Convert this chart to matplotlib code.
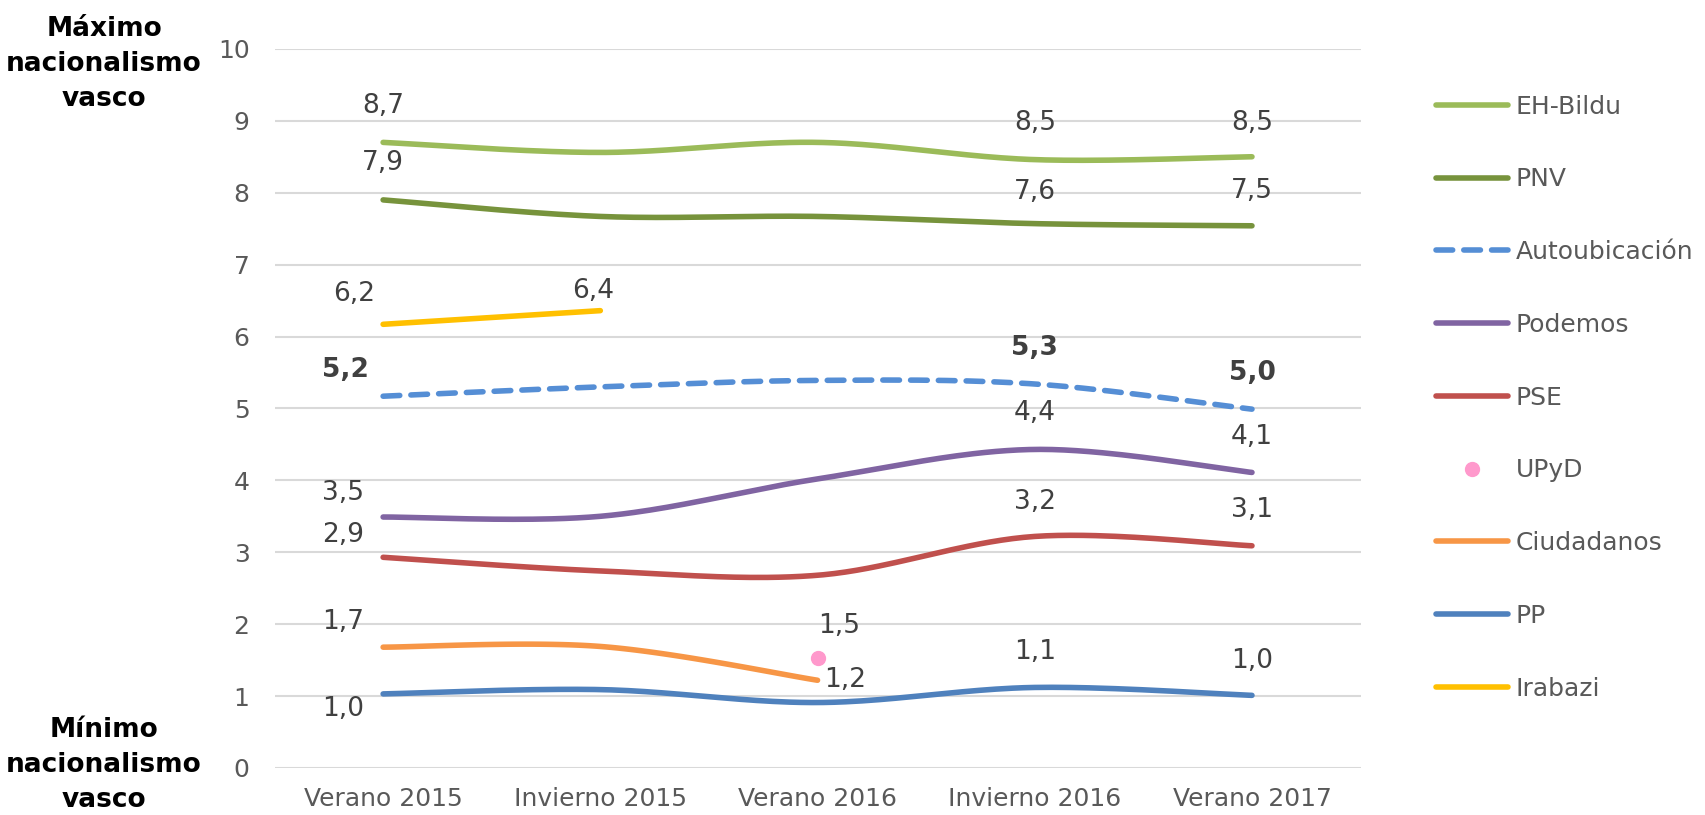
import numpy as np
import matplotlib
matplotlib.use('Agg')
import matplotlib.pyplot as plt
from matplotlib.lines import Line2D

# data
periods = ['Verano 2015', 'Invierno 2015', 'Verano 2016', 'Invierno 2016', 'Verano 2017']
nan = np.nan
eh_bildu = [8.70, 8.56, 8.70, 8.46, 8.50]
pnv = [7.90, 7.67, 7.67, 7.57, 7.54]
autoubicacion = [5.17, 5.30, 5.39, 5.34, 4.99]
podemos = [3.49, 3.50, 4.02, 4.43, 4.11]
pse = [2.93, 2.74, 2.68, 3.22, 3.09]
upyd = [nan, nan, 1.53, nan, nan]
ciudadanos = [1.68, 1.69, 1.22, nan, nan]
pp = [1.03, 1.09, 0.91, 1.12, 1.01]
irabazi = [6.17, 6.36, nan, nan, nan]

# which points carry a label, with offset in pixels (dx, dy)
label_offsets = {
    'EH-Bildu': {0: (0, 36), 3: (0, 37), 4: (0, 34)},
    'PNV': {0: (0, 37), 3: (0, 32), 4: (0, 35)},
    'Autoubicación': {0: (-38, 26), 3: (0, 36), 4: (0, 36)},
    'Podemos': {0: (-40, 24), 3: (0, 36), 4: (0, 35)},
    'PSE': {0: (-40, 22), 3: (0, 34), 4: (0, 36)},
    'UPyD': {2: (22, 32)},
    'Ciudadanos': {0: (-40, 25), 2: (28, 0)},
    'PP': {0: (-40, -15), 3: (0, 35), 4: (0, 34)},
    'Irabazi': {0: (-29, 30), 1: (-7, 20)},
}

series = [
    ('EH-Bildu', eh_bildu, '#9BBB59', '-'),
    ('PNV', pnv, '#77933C', '-'),
    ('Autoubicación', autoubicacion, '#558ED5', '--'),
    ('Podemos', podemos, '#8064A2', '-'),
    ('PSE', pse, '#C0504D', '-'),
    ('UPyD', upyd, '#FF99CC', 'o'),
    ('Ciudadanos', ciudadanos, '#F79646', '-'),
    ('PP', pp, '#4F81BD', '-'),
    ('Irabazi', irabazi, '#FFC000', '-'),
]

TEXT = '#595959'
LABEL = '#404040'
LW = 4.0


def smooth(xs, ys, n=40):
    """Catmull-Rom style smoothing like Excel's smoothed line"""
    xs = np.asarray(xs, float)
    ys = np.asarray(ys, float)
    if len(xs) < 3:
        return np.linspace(xs[0], xs[-1], n), np.linspace(ys[0], ys[-1], n)
    out_x, out_y = [], []
    for i in range(len(xs) - 1):
        p0 = (xs[i - 1], ys[i - 1]) if i > 0 else (xs[i], ys[i])
        p1 = (xs[i], ys[i])
        p2 = (xs[i + 1], ys[i + 1])
        p3 = (xs[i + 2], ys[i + 2]) if i + 2 < len(xs) else (xs[i + 1], ys[i + 1])
        t = np.linspace(0, 1, n)
        c1 = (p1[0] + (p2[0] - p0[0]) / 6, p1[1] + (p2[1] - p0[1]) / 6)
        c2 = (p2[0] - (p3[0] - p1[0]) / 6, p2[1] - (p3[1] - p1[1]) / 6)
        bx = (1 - t) ** 3 * p1[0] + 3 * (1 - t) ** 2 * t * c1[0] + 3 * (1 - t) * t ** 2 * c2[0] + t ** 3 * p2[0]
        by = (1 - t) ** 3 * p1[1] + 3 * (1 - t) ** 2 * t * c1[1] + 3 * (1 - t) * t ** 2 * c2[1] + t ** 3 * p2[1]
        out_x.extend(bx)
        out_y.extend(by)
    return np.array(out_x), np.array(out_y)


fig = plt.figure(figsize=(17.05, 8.15), dpi=100)
ax = fig.add_axes([0.161, 0.0577, 0.637, 0.8823])

x = np.arange(len(periods))
handles = []
for name, vals, color, style in series:
    vals = np.asarray(vals, float)
    ok = ~np.isnan(vals)
    if style == 'o':
        ax.plot(x[ok], vals[ok], 'o', color=color, markersize=10, zorder=3)
        handles.append(Line2D([], [], marker='o', color=color, linestyle='none', markersize=10))
    else:
        sx, sy = smooth(x[ok], vals[ok])
        if style == '--':
            ax.plot(sx, sy, color=color, lw=LW, dashes=(3.0, 2.0), dash_capstyle='round',
                    solid_capstyle='round', zorder=3)
            handles.append(Line2D([], [], color=color, lw=LW, dashes=(3.0, 2.0), dash_capstyle='round'))
        else:
            ax.plot(sx, sy, color=color, lw=LW, solid_capstyle='round', zorder=3)
            handles.append(Line2D([], [], color=color, lw=LW, solid_capstyle='round'))
    bold = name == 'Autoubicación'
    for i, (dx, dy) in label_offsets[name].items():
        txt = f'{vals[i]:.1f}'.replace('.', ',')
        ax.annotate(txt, (x[i], vals[i]), xytext=(dx, dy), textcoords='offset pixels',
                    ha='center', va='center', fontsize=19, color=LABEL,
                    fontweight='bold' if bold else 'normal', zorder=4)

ax.set_xlim(-0.5, len(periods) - 0.5)
ax.set_ylim(0, 10)
ax.set_yticks(range(0, 11))
ax.set_xticks(x)
ax.set_xticklabels(periods)
ax.tick_params(axis='both', length=0, labelsize=18, labelcolor=TEXT)
ax.tick_params(axis='y', pad=18)
ax.tick_params(axis='x', pad=14)
ax.grid(axis='y', color='#D9D9D9', lw=1.5)
ax.set_axisbelow(True)
for s in ax.spines.values():
    s.set_visible(False)

fig.text(0.061, 0.921, 'Máximo\nnacionalismo\nvasco', ha='center', va='center',
         fontsize=19, fontweight='bold', color='black', linespacing=1.45)
fig.text(0.061, 0.061, 'Mínimo\nnacionalismo\nvasco', ha='center', va='center',
         fontsize=19, fontweight='bold', color='black', linespacing=1.45)

leg = fig.legend(handles, [s[0] for s in series], loc='upper left',
                 bbox_to_anchor=(0.842, 0.884), frameon=False, fontsize=18,
                 handlelength=2.9, handletextpad=0.3, labelspacing=1.95,
                 borderpad=0, borderaxespad=0)
for t in leg.get_texts():
    t.set_color(TEXT)

plt.savefig('out.png', dpi=100)
